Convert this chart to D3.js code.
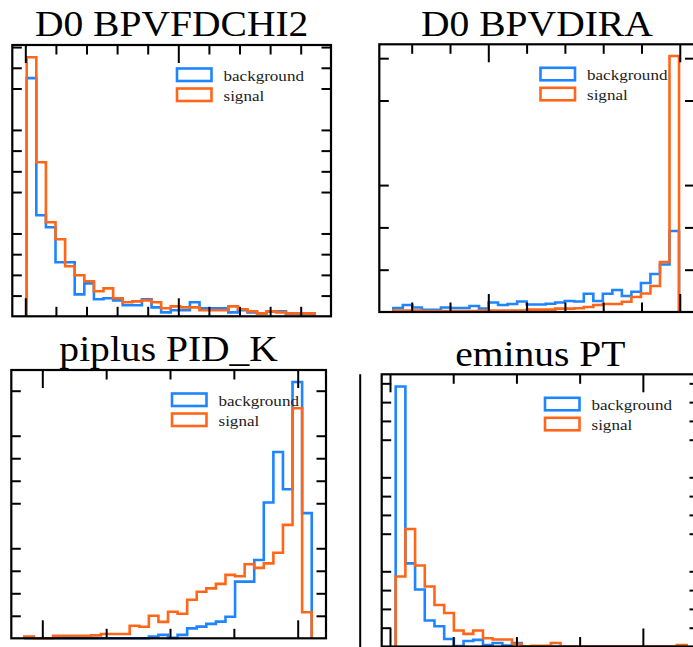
<!DOCTYPE html>
<html>
<head>
<meta charset="utf-8">
<script src="https://cdn.jsdelivr.net/npm/d3@7"></script>
<style>
body{margin:0;background:#fff;}
svg{display:block;}
.title{font-family:"Liberation Serif","Times New Roman",serif;font-size:35px;fill:#000;}
.legend_text{font-family:"Liberation Serif","Times New Roman",serif;font-size:15.5px;fill:#222;}
</style>
</head>
<body>
<div id="plot"></div>
<script>
// values, 30 bins per variable
const series = ["background", "signal"];
const titles = ["D0 BPVFDCHI2", "D0 BPVDIRA", "piplus PID_K", "eminus PT"];

const fdchiRange = [4.6, 945.8];
const fdchiBackground = [1150, 488, 430, 261, 261, 106, 159, 82, 87, 77, 53, 53, 82, 43, 19, 29, 29, 68, 39, 39, 39, 19, 29, 19, 14, 24, 24, 10, 10, 10];
const fdchiSignal = [1251, 744, 454, 372, 242, 198, 169, 121, 135, 87, 68, 72, 77, 68, 39, 48, 43, 43, 29, 29, 29, 48, 34, 24, 14, 24, 19, 14, 14, 14];

const diraRange = [-2.48, 4.98];
const diraBackground = [47, 83, 53, 27, 27, 53, 47, 47, 71, 41, 112, 83, 95, 124, 89, 89, 98, 112, 130, 124, 216, 130, 216, 260, 189, 240, 343, 449, 561, 957];
const diraSignal = [18, 18, 18, 12, 12, 12, 12, 12, 12, 18, 18, 18, 18, 18, 28, 28, 28, 40, 40, 45, 59, 83, 95, 95, 122, 177, 219, 307, 591, 3026];

const pidkRange = [-107.05, 5.48];
const pidkBackground = [0, 0, 0, 0, 0, 0, 0, 0, 0, 0, 0, 0, 0, 8, 15, 2, 15, 44, 52, 64, 74, 96, 252, 252, 348, 603, 828, 662, 1139, 556];
const pidkSignal = [8, 0, 0, 11, 11, 11, 11, 13, 19, 19, 19, 56, 51, 100, 73, 118, 109, 171, 207, 222, 242, 282, 276, 329, 313, 333, 380, 504, 1022, 116];

const ptRange = [2.25, 117.3];
const ptBackground = [1383, 442, 303, 138, 108, 40, 3, 29, 35, 8, 19, 5, 19, 0, 0, 0, 0, 0, 0, 0, 0, 0, 0, 0, 0, 0, 0, 0, 0, 0];
const ptSignal = [372, 625, 431, 319, 221, 178, 85, 67, 85, 44, 37, 37, 13, 0, 4, 4, 19, 0, 0, 0, 0, 0, 0, 0, 0, 0, 0, 0, 0, 8];

const colors = ["#1f85ff", "#ff6619"];

const width = 693;
const height = 647;

const panels = [
    {title: titles[0], range: fdchiRange, bg: fdchiBackground, sig: fdchiSignal,
     xDomain: [-42.5, 999], xMajor: 500, xMinor: 100, yMax: 1310, yMinor: 100, yMajor: 500,
     box: {left: 12.3, top: 45, right: 331, bottom: 316.3}},
    {title: titles[1], range: diraRange, bg: diraBackground, sig: diraSignal,
     xDomain: [-2.846, 5.384], xMajor: 5, xMinor: 1, yMax: 3164, yMinor: 500, yMajor: 2000,
     box: {left: 379.3, top: 44.3, right: 694.5, bottom: 312}},
    {title: titles[2], range: pidkRange, bg: pidkBackground, sig: pidkSignal,
     xDomain: [-112.14, 11.08], xMajor: 100, xMinor: 25, yMax: 1192, yMinor: 100, yMajor: 500,
     box: {left: 11.3, top: 370, right: 326, bottom: 638.3}},
    {title: titles[3], range: ptRange, bg: ptBackground, sig: ptSignal,
     xDomain: [-3.28, 122.2], xMajor: 100, xMinor: 25, yMax: 1448, yMinor: 100, yMajor: 500,
     box: {left: 381.7, top: 374.3, right: 699, bottom: 646.5}, sideLine: true}
];

var svg = d3.select("#plot").append("svg").attr("width", width).attr("height", height);

let isMultiple = function(v, step){
    return Math.abs(v/step - Math.round(v/step)) < 1e-6;
};

let tickList = function(domain, step){
    return d3.range(Math.ceil(domain[0]/step - 1e-9), Math.floor(domain[1]/step + 1e-9) + 1).map(i => i*step);
};

let drawPanel = function(p){
    const b = p.box;
    var g = svg.append("g");
    var xScale = d3.scaleLinear().domain(p.xDomain).range([b.left, b.right]);
    var yScale = d3.scaleLinear().domain([0, p.yMax]).range([b.bottom, b.top]);

    // histogram outlines (step)
    const n = p.bg.length;
    const w = (p.range[1] - p.range[0]) / n;
    const edges = d3.range(n + 1).map(i => p.range[0] + i*w);
    var line = d3.line().x(d => xScale(d[0])).y(d => yScale(d[1]));
    let stepPoints = function(counts){
        var pts = [[edges[0], 0]];
        counts.forEach((c, i) => { pts.push([edges[i], c]); pts.push([edges[i+1], c]); });
        pts.push([edges[n], 0]);
        return pts;
    };
    var hists = [p.bg, p.sig];
    hists.forEach((counts, k) => {
        g.append("path").attr("d", line(stepPoints(counts)))
            .attr("fill", "none").attr("stroke", colors[k])
            .attr("stroke-width", 2.6).attr("stroke-linejoin", "miter");
    });

    // ticks, pointing inward
    var xAll = tickList(p.xDomain, p.xMinor);
    var xMajors = xAll.filter(v => isMultiple(v, p.xMajor));
    var xMinors = xAll.filter(v => !isMultiple(v, p.xMajor));
    var yMinors = tickList([0.0001, p.yMax], p.yMinor).filter(v => !isMultiple(v, p.yMajor));

    var bottomAxes = [
        d3.axisBottom(xScale).tickValues(xMajors).tickSize(-18),
        d3.axisBottom(xScale).tickValues(xMinors).tickSize(-9.5)
    ];
    bottomAxes.forEach(a => g.append("g").attr("class", "axis").attr("transform", "translate(0," + b.bottom + ")").call(a.tickFormat("")));
    var topAxes = [
        d3.axisTop(xScale).tickValues(xMajors).tickSize(-18),
        d3.axisTop(xScale).tickValues(xMinors).tickSize(-9.5)
    ];
    topAxes.forEach(a => g.append("g").attr("class", "axis").attr("transform", "translate(0," + b.top + ")").call(a.tickFormat("")));
    g.append("g").attr("class", "axis").attr("transform", "translate(" + b.left + ",0)")
        .call(d3.axisLeft(yScale).tickValues(yMinors).tickSize(-9.5).tickFormat(""));
    g.append("g").attr("class", "axis").attr("transform", "translate(" + b.right + ",0)")
        .call(d3.axisRight(yScale).tickValues(yMinors).tickSize(-9.5).tickFormat(""));
    g.selectAll(".axis .domain").remove();
    g.selectAll(".axis line").attr("stroke", "#000").attr("stroke-width", 2);

    // frame
    g.append("rect").attr("x", b.left).attr("y", b.top)
        .attr("width", b.right - b.left).attr("height", b.bottom - b.top)
        .attr("fill", "none").attr("stroke", "#000").attr("stroke-width", 2.2);

    if (p.sideLine) {
        g.append("line").attr("x1", b.left - 21.5).attr("x2", b.left - 21.5)
            .attr("y1", b.top).attr("y2", height)
            .attr("stroke", "#000").attr("stroke-width", 2);
    }

    // title
    g.append("text").attr("class", "title")
        .attr("transform", "translate(" + ((b.left + b.right)/2) + "," + (b.top - 8.7) + ") scale(1.13,1)")
        .attr("text-anchor", "middle").text(p.title);

    // legend
    series.forEach((s, k) => {
        const lx = b.right - 154;
        const ly = b.top + 23.5 + k*20;
        g.append("rect").attr("x", lx).attr("y", ly).attr("width", 34.5).attr("height", 12.5)
            .attr("fill", "#fff").attr("stroke", colors[k]).attr("stroke-width", 2.6);
        g.append("text").attr("class", "legend_text")
            .attr("transform", "translate(" + (lx + 46.5) + "," + (ly + 12) + ") scale(1.1,1)")
            .text(s);
    });
};

panels.forEach(p => drawPanel(p));
</script>
</body>
</html>
